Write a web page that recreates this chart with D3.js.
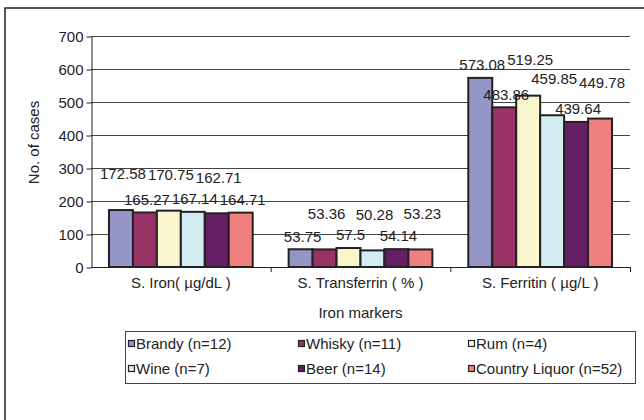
<!DOCTYPE html>
<html>
<head>
<meta charset="utf-8">
<script src="https://cdn.jsdelivr.net/npm/d3@7"></script>
<style>
  html, body { margin: 0; padding: 0; background: #fff; }
  svg { display: block; }
  text { font-family: "Liberation Sans", Arial, sans-serif; fill: #222; }
</style>
</head>
<body>
<svg id="chart" width="644" height="420"></svg>
<script>
// Iron marker categories and drinking groups
const categories = ["S. Iron( µg/dL )", "S. Transferrin ( % )", "S. Ferritin ( µg/L )"];
const seriesNames = ["Brandy (n=12)", "Whisky (n=11)", "Rum (n=4)", "Wine (n=7)", "Beer (n=14)", "Country Liquor (n=52)"];

// Mean values per group, one array per iron marker
const ironValues = [172.58, 165.27, 170.75, 167.14, 162.71, 164.71];
const transferrinValues = [53.75, 53.36, 57.5, 50.28, 54.14, 53.23];
const ferritinValues = [573.08, 483.86, 519.25, 459.85, 439.64, 449.78];

const yTicks = [0, 100, 200, 300, 400, 500, 600, 700];
const colors = ["#9595C8", "#993366", "#FAF7CF", "#D2ECF2", "#641E64", "#F07F7F"];

// Labels that sit on the upper row so that neighbouring values don't collide
const ironRaised = [true, false, true, false, true, false];
const transferrinRaised = [false, true, false, true, false, true];
const ferritinRaised = [false, false, true, true, false, true];

const valueTable = [ironValues, transferrinValues, ferritinValues];
const raisedTable = [ironRaised, transferrinRaised, ferritinRaised];

const FONT = "15px";

const svg = d3.select("#chart");

// outer frame (top and left edges visible)
svg.append("path")
  .attr("d", "M5,424 L5,8 L648,8")
  .attr("fill", "none")
  .attr("stroke", "#222")
  .attr("stroke-width", 1.5);

const plot = { left: 91, right: 630, top: 36, bottom: 267 };

const x = d3.scaleBand().domain(categories).range([plot.left, plot.right]).padding(0);
const bw = x.bandwidth();
const xs = d3.scaleBand().domain(seriesNames).range([bw * 0.1, bw * 0.9]).padding(0);
const y = d3.scaleLinear().domain([0, 700]).range([plot.bottom, plot.top]);

// gridlines
svg.append("g")
  .selectAll("line")
  .data(yTicks.filter(d => d > 0))
  .join("line")
  .attr("x1", plot.left).attr("x2", plot.right)
  .attr("y1", d => y(d) + 0.5).attr("y2", d => y(d) + 0.5)
  .attr("stroke", "#444").attr("stroke-width", 1);

// y axis
const yAxis = svg.append("g")
  .attr("transform", `translate(${plot.left + 0.5},0.5)`)
  .call(d3.axisLeft(y).tickValues(yTicks).tickSize(5).tickPadding(3).tickSizeOuter(0));
yAxis.select(".domain").attr("stroke", "#222");
yAxis.selectAll(".tick line").attr("stroke", "#222");
yAxis.selectAll(".tick text")
  .style("font-size", FONT)
  .style("font-family", "'Liberation Sans', Arial, sans-serif")
  .attr("fill", "#222");

// x axis: baseline with ticks between categories
const xg = svg.append("g");
xg.append("line")
  .attr("x1", plot.left).attr("x2", plot.right)
  .attr("y1", plot.bottom + 0.5).attr("y2", plot.bottom + 0.5)
  .attr("stroke", "#222");
xg.selectAll("line.sep")
  .data(categories)
  .join("line")
  .attr("class", "sep")
  .attr("x1", d => x(d) + bw + 0.5).attr("x2", d => x(d) + bw + 0.5)
  .attr("y1", plot.bottom).attr("y2", plot.bottom + 5)
  .attr("stroke", "#222");
xg.selectAll("text")
  .data(categories)
  .join("text")
  .attr("x", d => x(d) + bw / 2)
  .attr("y", 288)
  .attr("text-anchor", "middle")
  .style("font-size", FONT)
  .text(d => d);

// bars
const groups = svg.append("g")
  .selectAll("g")
  .data(categories)
  .join("g")
  .attr("transform", d => `translate(${x(d)},0)`);

groups.selectAll("rect")
  .data((c, ci) => seriesNames.map((s, si) => ({ s, si, v: valueTable[ci][si] })))
  .join("rect")
  .attr("x", d => xs(d.s))
  .attr("y", d => y(d.v))
  .attr("width", xs.bandwidth())
  .attr("height", d => y(0) - y(d.v))
  .attr("fill", d => colors[d.si])
  .attr("stroke", "#222")
  .attr("stroke-width", 2);

// value labels
groups.selectAll("text")
  .data((c, ci) => seriesNames.map((s, si) => ({ s, si, v: valueTable[ci][si], up: raisedTable[ci][si] })))
  .join("text")
  .attr("x", d => xs(d.s) + xs.bandwidth() / 2 + 2)
  .attr("y", d => y(d.v) - (d.up ? 36 : 13))
  .attr("dy", "0.35em")
  .attr("text-anchor", "middle")
  .style("font-size", FONT)
  .text(d => d.v);

// axis titles
svg.append("text")
  .attr("transform", `translate(39,${(plot.top + plot.bottom) / 2 - 9}) rotate(-90)`)
  .attr("text-anchor", "middle")
  .style("font-size", FONT)
  .text("No. of cases");

svg.append("text")
  .attr("x", (plot.left + plot.right) / 2)
  .attr("y", 318)
  .attr("text-anchor", "middle")
  .style("font-size", FONT)
  .text("Iron markers");

// legend
const legend = svg.append("g");
legend.append("rect")
  .attr("x", 125.5).attr("y", 331.5)
  .attr("width", 510).attr("height", 52)
  .attr("fill", "#fff")
  .attr("stroke", "#444");

const items = legend.selectAll("g.item")
  .data(seriesNames)
  .join("g")
  .attr("class", "item")
  .attr("transform", (d, i) => `translate(${128 + (i % 3) * 170},${344 + Math.floor(i / 3) * 25})`);
items.append("rect")
  .attr("x", 0.5).attr("y", -3.5)
  .attr("width", 6).attr("height", 6)
  .attr("fill", (d, i) => colors[i])
  .attr("stroke", "#222")
  .attr("stroke-width", 1.2);
items.append("text")
  .attr("x", 8)
  .attr("dy", "0.35em")
  .style("font-size", FONT)
  .text(d => d);
</script>
</body>
</html>
